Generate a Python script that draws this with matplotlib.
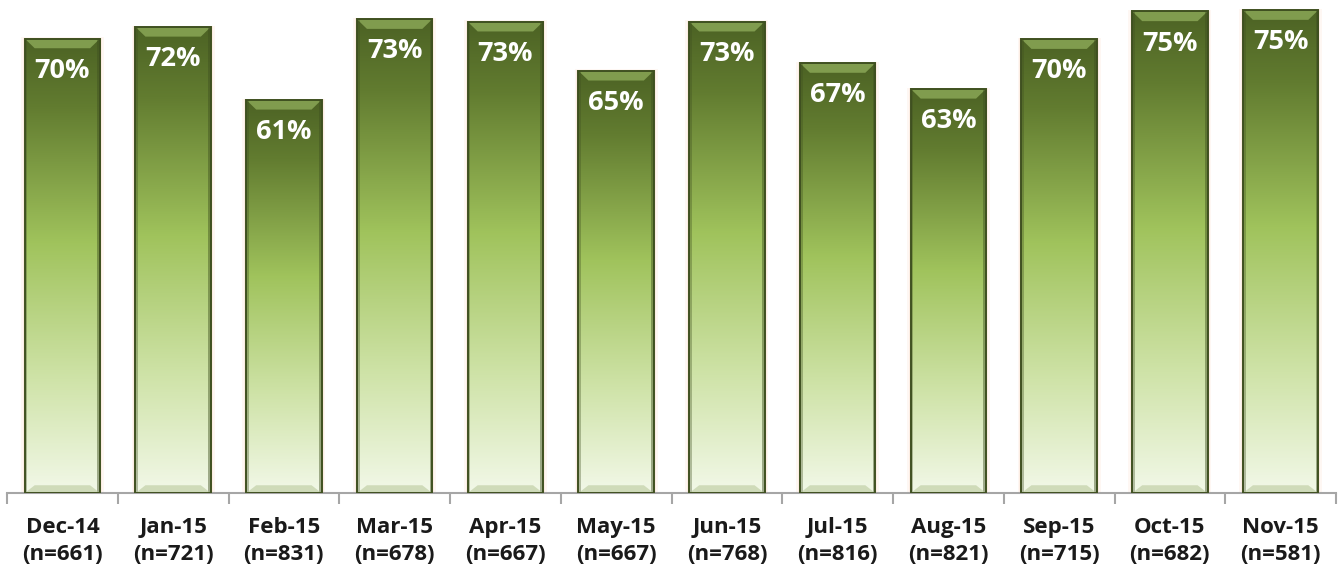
import numpy as np
import matplotlib.pyplot as plt
from matplotlib.colors import LinearSegmentedColormap
from matplotlib.patches import Rectangle, Polygon

months = ["Dec-14", "Jan-15", "Feb-15", "Mar-15", "Apr-15", "May-15",
          "Jun-15", "Jul-15", "Aug-15", "Sep-15", "Oct-15", "Nov-15"]
sample_sizes = [661, 721, 831, 678, 667, 667, 768, 816, 821, 715, 682, 581]
percent = [70.4, 72.2, 60.9, 73.4, 73.0, 65.4, 73.0, 66.6, 62.6, 70.3, 74.6, 74.8]

BAR_WIDTH = 0.68
FONT = "Open Sans"

bar_cmap = LinearSegmentedColormap.from_list(
    "olive", [(0.0, "#4c6224"), (0.15, "#627c30"), (0.45, "#a0c35c"),
              (0.75, "#cfe3a8"), (1.0, "#f2f8e8")])

fig = plt.figure(figsize=(13.41, 5.74), dpi=100)
ax = fig.add_axes([7 / 1341, 81 / 574, 1329 / 1341, 493 / 574])

x = np.arange(len(months))
grad = np.linspace(0, 1, 256).reshape(-1, 1)
bevel_h = 1.5
bevel_w = 0.09

for xi, val in zip(x, percent):
    left = xi - BAR_WIDTH / 2
    right = xi + BAR_WIDTH / 2
    # soft orange glow behind bar
    for k, a in [(0.035, 0.10), (0.02, 0.15)]:
        ax.add_patch(Rectangle((left - k, 0), BAR_WIDTH + 2 * k, val + k * 6,
                               facecolor="#f7b98a", edgecolor="none", alpha=a, zorder=1))
    rect = Rectangle((left, 0), BAR_WIDTH, val, facecolor="none",
                     edgecolor="#3f5020", linewidth=1.4, zorder=4)
    ax.add_patch(rect)
    img = ax.imshow(grad, cmap=bar_cmap, aspect="auto",
                    extent=(left, right, 0, val), origin="upper", zorder=2)
    img.set_clip_path(rect)
    # top bevel
    ax.add_patch(Polygon([(left, val), (right, val),
                          (right - bevel_w, val - bevel_h), (left + bevel_w, val - bevel_h)],
                         closed=True, facecolor="#809c4e", edgecolor="none", zorder=3))
    # side shading
    ax.add_patch(Rectangle((left, 0), 0.025, val, facecolor="#3f5020",
                           alpha=0.35, edgecolor="none", zorder=3))
    ax.add_patch(Rectangle((right - 0.025, 0), 0.025, val, facecolor="#3f5020",
                           alpha=0.45, edgecolor="none", zorder=3))
    # bottom bevel
    ax.add_patch(Polygon([(left, 0), (right, 0),
                          (right - bevel_w, bevel_h * 0.8), (left + bevel_w, bevel_h * 0.8)],
                         closed=True, facecolor="#b9c99c", alpha=0.6,
                         edgecolor="none", zorder=3))
    ax.text(xi, val - 5.0, f"{val:.0f}%", ha="center", va="center",
            color="white", fontsize=19.5, fontweight="bold", family=FONT, zorder=5)

ax.set_xlim(-0.5, len(months) - 0.5)
ax.set_ylim(0, 493 / 6.455)

for side in ["top", "right", "left"]:
    ax.spines[side].set_visible(False)
ax.spines["bottom"].set_color("#a6a6a6")
ax.spines["bottom"].set_linewidth(1.5)
ax.set_yticks([])

ax.set_xticks(np.arange(len(months) + 1) - 0.5)
ax.set_xticklabels([])
ax.tick_params(axis="x", length=8, width=1.5, color="#a6a6a6")
ax.set_xticks(x, minor=True)
ax.set_xticklabels([f"{m}\n(n={n})" for m, n in zip(months, sample_sizes)],
                   minor=True, fontsize=16, fontweight="bold", family=FONT,
                   color="#1a1a1a", linespacing=1.4)
ax.tick_params(axis="x", which="minor", length=0, pad=17)

fig.savefig("out.png", dpi=100)
